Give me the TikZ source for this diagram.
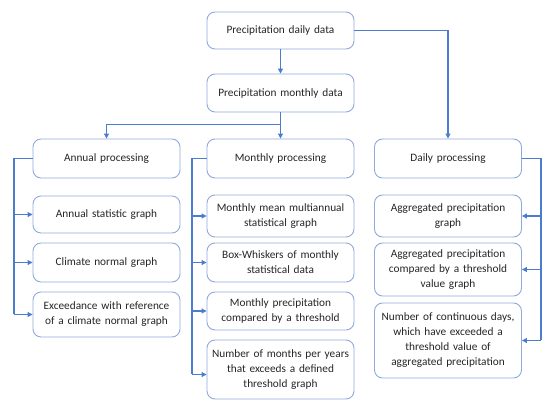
\documentclass[tikz,border=0pt]{standalone}
\usepackage{fontspec}
\setmainfont{Carlito}
\usepackage{tikz}
\usetikzlibrary{arrows.meta,positioning,calc}
\definecolor{boxline}{RGB}{143,170,220}
\definecolor{linkline}{RGB}{74,125,205}

\tikzset{
    block/.style={draw=boxline,line width=0.9pt,rounded corners=8pt,fill=white,
        minimum width=147pt,text width=142pt,align=center,inner sep=2pt,
        text=black!85,font=\fontsize{11.3}{15}\selectfont},
    link/.style={draw=linkline,line width=1.1pt},
}

\begin{document}
\begin{tikzpicture}[x=1pt,y=-1pt,>={Triangle[length=5pt,width=5pt]},semithick]
    \useasboundingbox (0,0) rectangle (558,414);

    \node   [block,minimum height=37pt]     (pdaily)    at (280.5,30.5)  {Precipitation daily data};
    \node   [block,minimum height=38pt]     (pmonthly)  at (280.5,93)    {Precipitation monthly data};

    \node   [block,minimum height=39pt]     (annual)    at (106.5,158.5) {Annual processing};
    \node   [block,minimum height=37pt]     (annstat)   at (106.5,214.5) {Annual statistic graph};
    \node   [block,minimum height=39pt]     (climnorm)  at (106.5,262.5) {Climate normal graph};
    \node   [block,minimum height=45pt]     (exceed)    at (106.5,314.5) {Exceedance with reference\\of a climate normal graph};

    \node   [block,minimum height=39pt]     (monthly)   at (280.5,158.5) {Monthly processing};
    \node   [block,minimum height=42pt]     (mmean)     at (280.5,216)   {Monthly mean multiannual\\statistical graph};
    \node   [block,minimum height=39pt]     (boxwhisk)  at (280.5,262.5) {Box-Whiskers of monthly\\statistical data};
    \node   [block,minimum height=38pt]     (mthresh)   at (280.5,311)   {Monthly precipitation\\compared by a threshold};
    \node   [block,minimum height=59pt]     (nmonths)   at (280.5,369.5) {Number of months per years\\that exceeds a defined\\threshold graph};

    \node   [block,minimum height=39pt]     (daily)     at (448,158.5)   {Daily processing};
    \node   [block,minimum height=42pt]     (aggr)      at (448,216)     {Aggregated precipitation\\graph};
    \node   [block,minimum height=53pt]     (aggthr)    at (448,269.5)   {Aggregated precipitation\\compared by a threshold\\value graph};
    \node   [block,minimum height=75pt]     (ncont)     at (448,340.5)   {Number of continuous days,\\which have exceeded a\\threshold value of\\aggregated precipitation};

    % main flow
    \draw   [link,->] (pdaily) -- (pmonthly);
    \draw   [link,->] (pdaily.east) -| (daily.north);
    \draw   [link,->] (pmonthly) -- (monthly);
    \coordinate (split) at ($(pmonthly.south)!0.45!(monthly.north)$);
    \draw   [link,->] (split) -| (annual.north);

    % annual branch
    \coordinate (abus) at (14,0);
    \draw   [link] (annual.west) -- (abus |- annual.west) -- (abus |- exceed.west);
    \foreach \b in {annstat,climnorm,exceed}
        \draw [link,->] (abus |- \b.west) -- (\b.west);

    % monthly branch
    \coordinate (mbus) at (192,0);
    \draw   [link] (monthly.west) -- (mbus |- monthly.west) -- ([yshift=-5pt]mbus |- nmonths.west);
    \foreach \b in {mmean,boxwhisk,mthresh}
        \draw [link,->] (mbus |- \b.west) -- (\b.west);
    \draw   [link,->] ([yshift=-5pt]mbus |- nmonths.west) -- ([yshift=-5pt]nmonths.west);

    % daily branch
    \coordinate (dbus) at (541,0);
    \draw   [link] (daily.east) -- (dbus |- daily.east) -- (dbus |- ncont.east);
    \foreach \b in {aggr,aggthr,ncont}
        \draw [link,->] (dbus |- \b.east) -- (\b.east);
\end{tikzpicture}
\end{document}
